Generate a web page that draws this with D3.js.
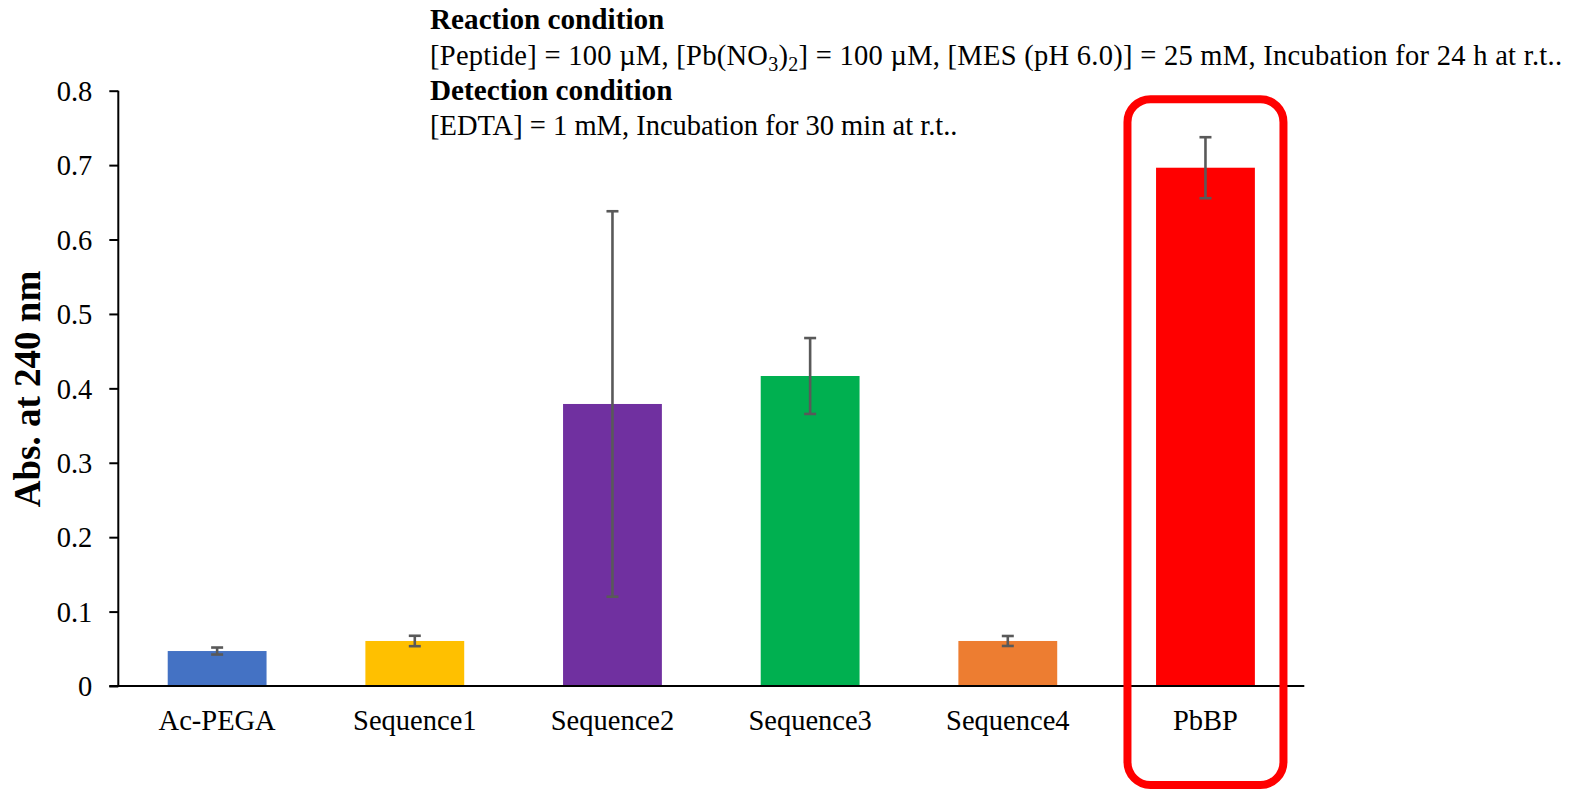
<!DOCTYPE html>
<html>
<head>
<meta charset="utf-8">
<script src="https://cdn.jsdelivr.net/npm/d3@7/dist/d3.min.js"></script>
<style>
  html, body { margin: 0; padding: 0; background: #fff; }
  svg { display: block; }
  text { font-family: "Liberation Serif", "Times New Roman", serif; fill: #000; }
</style>
</head>
<body>
<svg id="chart" width="1581" height="793"></svg>
<script>
// Absorbance at 240 nm for each peptide (mean and error)
const categories = ["Ac-PEGA", "Sequence1", "Sequence2", "Sequence3", "Sequence4", "PbBP"];
const absValues  = [0.047, 0.0605, 0.379, 0.4166, 0.0605, 0.6965];
const absErrors  = [0.0047, 0.007, 0.259, 0.051, 0.0067, 0.041];
const barColors  = ["#4472C4", "#FFC000", "#7030A0", "#00B050", "#ED7D31", "#FF0000"];
const yTicks     = [0, 0.1, 0.2, 0.3, 0.4, 0.5, 0.6, 0.7, 0.8];
const highlighted = "PbBP";

const svg = d3.select("#chart");
const plot = { left: 118.3, right: 1304.3, top: 90.7, bottom: 686 };

const x = d3.scaleBand()
  .domain(categories)
  .range([plot.left, plot.right])
  .paddingInner(0.5)
  .paddingOuter(0.25);

const y = d3.scaleLinear()
  .domain([0, 0.8])
  .range([plot.bottom, plot.top]);

// Bars
svg.append("g").selectAll("rect")
  .data(categories)
  .join("rect")
  .attr("x", d => x(d))
  .attr("width", x.bandwidth())
  .attr("y", (d, i) => y(absValues[i]))
  .attr("height", (d, i) => y(0) - y(absValues[i]))
  .attr("fill", (d, i) => barColors[i]);

// Error bars
const capHalf = 6;
const err = svg.append("g")
  .attr("stroke", "#595959")
  .attr("stroke-width", 2.6)
  .selectAll("g")
  .data(categories)
  .join("g")
  .attr("transform", d => `translate(${x(d) + x.bandwidth() / 2},0)`);
err.append("line")
  .attr("y1", (d, i) => y(absValues[i] + absErrors[i]))
  .attr("y2", (d, i) => y(absValues[i] - absErrors[i]));
err.append("line")
  .attr("x1", -capHalf).attr("x2", capHalf)
  .attr("y1", (d, i) => y(absValues[i] + absErrors[i]))
  .attr("y2", (d, i) => y(absValues[i] + absErrors[i]));
err.append("line")
  .attr("x1", -capHalf).attr("x2", capHalf)
  .attr("y1", (d, i) => y(absValues[i] - absErrors[i]))
  .attr("y2", (d, i) => y(absValues[i] - absErrors[i]));

// Y axis
const yAxis = svg.append("g")
  .attr("transform", `translate(${plot.left},0)`)
  .call(d3.axisLeft(y).tickValues(yTicks).tickSize(9).tickPadding(17)
    .tickFormat(d => d === 0 ? "0" : d3.format(".1f")(d)));
yAxis.select(".domain").attr("stroke", "#000").attr("stroke-width", 2)
  .attr("d", `M0,${plot.top}V${plot.bottom}`);
yAxis.selectAll(".tick line").attr("stroke", "#000").attr("stroke-width", 2);
yAxis.selectAll(".tick text")
  .attr("font-family", "Liberation Serif, Times New Roman, serif")
  .attr("font-size", 28.5).attr("fill", "#000").attr("dy", "0.34em");

// X axis
const xAxis = svg.append("g")
  .attr("transform", `translate(0,${plot.bottom})`)
  .call(d3.axisBottom(x).tickSize(0).tickPadding(0));
xAxis.select(".domain").attr("stroke", "#000").attr("stroke-width", 2)
  .attr("d", `M${plot.left - 9},0H${plot.right}`);
xAxis.selectAll(".tick text")
  .attr("font-family", "Liberation Serif, Times New Roman, serif")
  .attr("font-size", 28.5).attr("fill", "#000")
  .attr("y", 44).attr("dy", 0);

// Y axis title
svg.append("text")
  .attr("transform", `translate(40,389) rotate(-90)`)
  .attr("text-anchor", "middle")
  .attr("font-weight", "bold")
  .attr("font-size", 37)
  .text("Abs. at 240 nm");

// Experimental conditions
const notes = svg.append("g").attr("font-size", 28.5);
notes.append("text").attr("x", 430).attr("y", 29).attr("font-weight", "bold")
  .attr("font-size", 29.2)
  .text("Reaction condition");
const line2 = notes.append("text").attr("x", 430).attr("y", 65)
  .attr("textLength", 1132).attr("lengthAdjust", "spacing");
line2.append("tspan").text("[Peptide] = 100 \u00B5M, [Pb(NO");
line2.append("tspan").attr("font-size", 20).attr("dy", 6).text("3");
line2.append("tspan").attr("dy", -6).text(")");
line2.append("tspan").attr("font-size", 20).attr("dy", 6).text("2");
line2.append("tspan").attr("dy", -6).text("] = 100 \u00B5M, [MES (pH 6.0)] = 25 mM, Incubation for 24 h at r.t..");
notes.append("text").attr("x", 430).attr("y", 100).attr("font-weight", "bold")
  .attr("font-size", 29.2)
  .text("Detection condition");
notes.append("text").attr("x", 430).attr("y", 135)
  .text("[EDTA] = 1 mM, Incubation for 30 min at r.t..");

// Highlight frame around the lead peptide
const cx = x(highlighted) + x.bandwidth() / 2;
svg.append("rect")
  .attr("x", cx - 78)
  .attr("width", 156)
  .attr("y", plot.top + 8.5)
  .attr("height", 785 - (plot.top + 8.5))
  .attr("rx", 23).attr("ry", 23)
  .attr("fill", "none")
  .attr("stroke", "#FF0000")
  .attr("stroke-width", 8);
</script>
</body>
</html>
